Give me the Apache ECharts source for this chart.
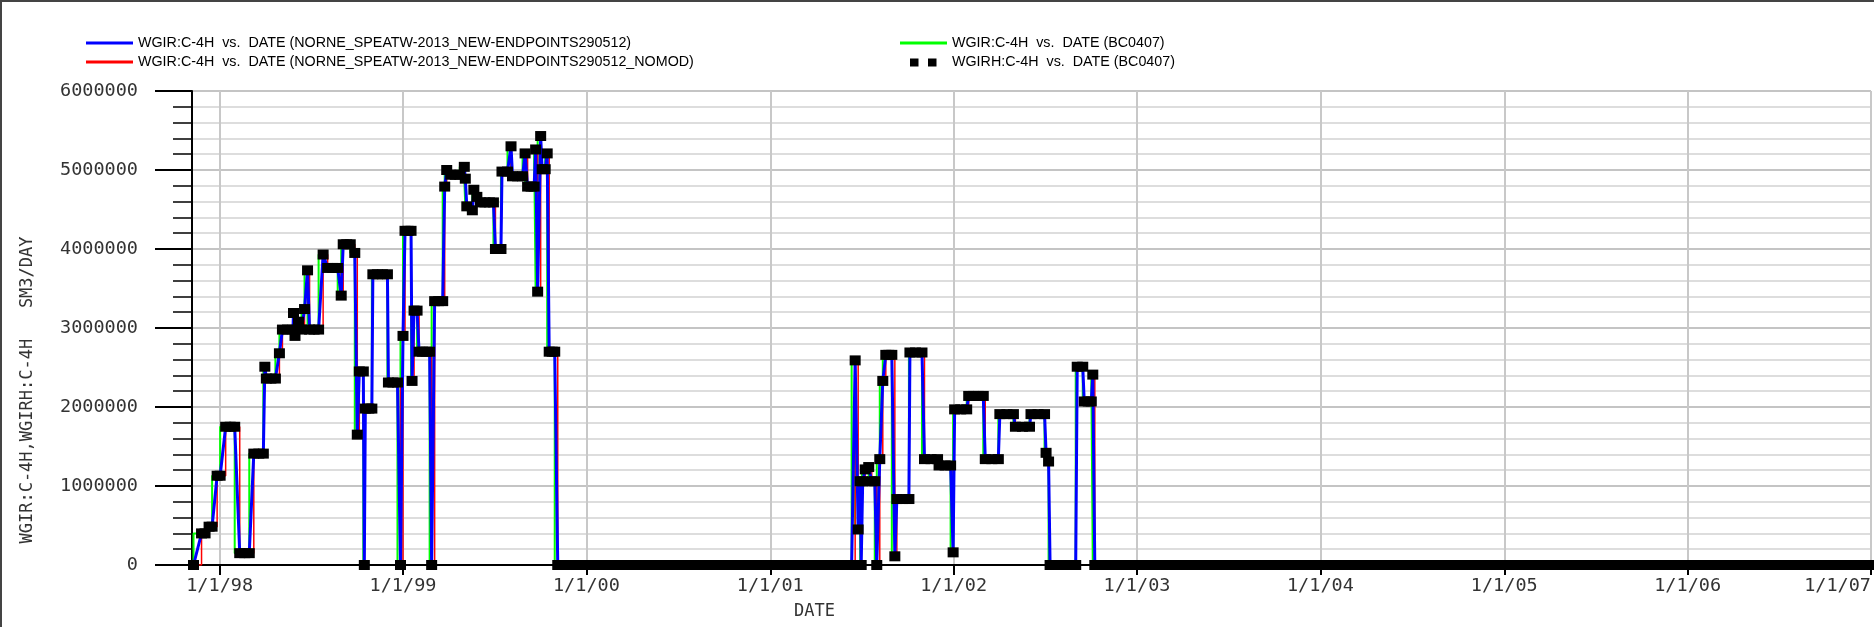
<!DOCTYPE html>
<html>
<head>
<meta charset="utf-8">
<script src="https://cdn.jsdelivr.net/npm/echarts@6/dist/echarts.min.js"></script>
<style>
html,body{margin:0;padding:0;background:#fff;}
#chart{width:1874px;height:627px;}
</style>
</head>
<body>
<div id="chart"></div>
<script>
// ---------- DATA ----------
const seriesNames = [
  'WGIR:C-4H  vs.  DATE (NORNE_SPEATW-2013_NEW-ENDPOINTS290512)',
  'WGIR:C-4H  vs.  DATE (NORNE_SPEATW-2013_NEW-ENDPOINTS290512_NOMOD)',
  'WGIR:C-4H  vs.  DATE (BC0407)',
  'WGIRH:C-4H  vs.  DATE (BC0407)'
];
const yAxisTitle = 'WGIR:C-4H,WGIRH:C-4H   SM3/DAY';
const xAxisTitle = 'DATE';
const yTickLabels = ['0','1000000','2000000','3000000','4000000','5000000','6000000'];

// injection period 1 (date, SM3/DAY)
const period1 = [
 ['1997-11-10',0],['1997-11-26',400000],['1997-12-03',400000],['1997-12-11',485000],['1997-12-17',485000],
 ['1997-12-27',1130000],['1998-01-02',1130000],['1998-01-13',1750000],['1998-01-22',1750000],['1998-01-31',1750000],
 ['1998-02-10',150000],['1998-02-20',150000],['1998-03-01',150000],['1998-03-10',1410000],['1998-03-20',1410000],
 ['1998-03-29',1410000],['1998-04-01',2510000],['1998-04-04',2360000],['1998-04-13',2360000],['1998-04-22',2360000],
 ['1998-04-30',2680000],['1998-05-06',2980000],['1998-05-16',2980000],['1998-05-27',2980000],['1998-05-28',3190000],
 ['1998-05-31',2900000],['1998-06-07',3080000],['1998-06-13',2980000],['1998-06-19',3240000],['1998-06-25',3730000],
 ['1998-06-29',2980000],['1998-07-08',2980000],['1998-07-17',2980000],['1998-07-26',3930000],['1998-08-04',3760000],
 ['1998-08-14',3760000],['1998-08-24',3760000],['1998-08-31',3410000],['1998-09-04',4060000],['1998-09-11',4060000],
 ['1998-09-18',4060000],['1998-09-27',3950000],['1998-10-02',1650000],['1998-10-06',2450000],['1998-10-14',2450000],
 ['1998-10-16',0],['1998-10-18',1980000],['1998-10-25',1980000],['1998-10-31',1980000],['1998-11-02',3680000],
 ['1998-11-11',3680000],['1998-11-21',3680000],['1998-12-01',3680000],['1998-12-03',2310000],['1998-12-12',2310000],
 ['1998-12-21',2310000],['1998-12-27',0],['1999-01-01',2900000],['1999-01-05',4230000],['1999-01-11',4230000],
 ['1999-01-17',4230000],['1999-01-19',2330000],['1999-01-23',3220000],['1999-01-29',3220000],['1999-02-02',2700000],
 ['1999-02-09',2700000],['1999-02-16',2700000],['1999-02-23',2700000],['1999-02-27',0],['1999-03-05',3340000],
 ['1999-03-13',3340000],['1999-03-21',3340000],['1999-03-25',4790000],['1999-03-29',5000000],['1999-04-06',4940000],
 ['1999-04-15',4940000],['1999-04-24',4940000],['1999-05-03',5040000],['1999-05-05',4890000],['1999-05-08',4540000],
 ['1999-05-19',4490000],['1999-05-22',4750000],['1999-05-28',4660000],['1999-06-04',4590000],['1999-06-13',4590000],
 ['1999-06-22',4590000],['1999-06-30',4590000],['1999-07-04',4000000],['1999-07-10',4000000],['1999-07-15',4000000],
 ['1999-07-17',4980000],['1999-07-28',4980000],['1999-08-04',5300000],['1999-08-07',4920000],['1999-08-17',4920000],
 ['1999-08-27',4920000],['1999-09-01',5210000],['1999-09-06',4790000],['1999-09-13',4790000],['1999-09-19',4790000],
 ['1999-09-22',5260000],['1999-09-26',3460000],['1999-10-02',5430000],['1999-10-05',5010000],['1999-10-11',5010000],
 ['1999-10-15',5210000],['1999-10-19',2700000],['1999-10-25',2700000],['1999-10-30',2700000]
];
// shut-in report dates (rate 0)
const shutIn1 = [
 '1999-11-05','1999-11-18','1999-12-01','1999-12-16',
 '2000-01-01','2000-01-16','2000-02-01','2000-02-16','2000-03-01','2000-03-16','2000-04-01','2000-04-16',
 '2000-05-01','2000-05-16','2000-06-01','2000-06-16','2000-07-01','2000-07-16','2000-08-01','2000-08-16',
 '2000-09-01','2000-09-16','2000-10-01','2000-10-16','2000-11-01','2000-11-16','2000-12-01','2000-12-16',
 '2001-01-01','2001-01-16','2001-02-01','2001-02-16','2001-03-01','2001-03-16','2001-04-01','2001-04-16',
 '2001-05-01','2001-05-16','2001-06-01','2001-06-12'
];
const period2 = [
 ['2001-06-19',2590000],['2001-06-25',450000],['2001-06-29',1060000],['2001-07-01',0],['2001-07-04',1060000],
 ['2001-07-09',1210000],['2001-07-16',1240000],['2001-07-22',1060000],['2001-07-28',1060000],['2001-08-01',0],
 ['2001-08-07',1340000],['2001-08-13',2330000],['2001-08-19',2660000],['2001-08-25',2660000],['2001-08-31',2660000],
 ['2001-09-06',110000],['2001-09-10',835000],['2001-09-22',835000],['2001-10-04',835000],['2001-10-06',2690000],
 ['2001-10-17',2690000],['2001-10-30',2690000],['2001-11-04',1340000],['2001-11-17',1340000],['2001-11-30',1340000],
 ['2001-12-03',1260000],['2001-12-15',1260000],['2001-12-26',1260000],['2001-12-31',160000],['2002-01-03',1970000],
 ['2002-01-15',1970000],['2002-01-27',1970000],['2002-01-31',2140000],['2002-02-09',2140000],['2002-02-19',2140000],
 ['2002-03-01',2140000],['2002-03-05',1340000],['2002-03-18',1340000],['2002-03-31',1340000],['2002-04-03',1910000],
 ['2002-04-17',1910000],['2002-04-30',1910000],['2002-05-04',1750000],['2002-05-18',1750000],['2002-06-01',1750000],
 ['2002-06-04',1910000],['2002-06-18',1910000],['2002-07-01',1910000],['2002-07-04',1420000],['2002-07-09',1310000]
];
const shutIn2 = ['2002-07-12','2002-07-24','2002-08-06','2002-08-19','2002-09-01'];
const period3 = [
 ['2002-09-04',2510000],['2002-09-15',2510000],['2002-09-18',2070000],['2002-09-26',2070000],['2002-10-02',2070000],
 ['2002-10-05',2410000]
];
const shutIn3 = [
 '2002-10-09','2002-10-20','2002-11-01','2002-11-16','2002-12-01','2002-12-16',
 '2003-01-01','2003-01-16','2003-02-01','2003-02-16','2003-03-01','2003-03-16','2003-04-01','2003-04-16',
 '2003-05-01','2003-05-16','2003-06-01','2003-06-16','2003-07-01','2003-07-16','2003-08-01','2003-08-16',
 '2003-09-01','2003-09-16','2003-10-01','2003-10-16','2003-11-01','2003-11-16','2003-12-01','2003-12-16',
 '2004-01-01','2004-01-16','2004-02-01','2004-02-16','2004-03-01','2004-03-16','2004-04-01','2004-04-16',
 '2004-05-01','2004-05-16','2004-06-01','2004-06-16','2004-07-01','2004-07-16','2004-08-01','2004-08-16',
 '2004-09-01','2004-09-16','2004-10-01','2004-10-16','2004-11-01','2004-11-16','2004-12-01','2004-12-16',
 '2005-01-01','2005-01-16','2005-02-01','2005-02-16','2005-03-01','2005-03-16','2005-04-01','2005-04-16',
 '2005-05-01','2005-05-16','2005-06-01','2005-06-16','2005-07-01','2005-07-16','2005-08-01','2005-08-16',
 '2005-09-01','2005-09-16','2005-10-01','2005-10-16','2005-11-01','2005-11-16','2005-12-01','2005-12-16',
 '2006-01-01','2006-01-16','2006-02-01','2006-02-16','2006-03-01','2006-03-16','2006-04-01','2006-04-16',
 '2006-05-01','2006-05-16','2006-06-01','2006-06-16','2006-07-01','2006-07-16','2006-08-01','2006-08-16',
 '2006-09-01','2006-09-16','2006-10-01','2006-10-16','2006-11-01','2006-11-16','2006-12-01','2006-12-16',
 '2007-01-01'
];

// ---------- build table ----------
const zeroRows = d => d.map(x => [x, 0]);
const historyPoints = [].concat(period1, zeroRows(shutIn1), period2, zeroRows(shutIn2), period3, zeroRows(shutIn3));

const colors = ['#0000ff', '#ff0000', '#00ff00', '#000000'];
const lineIcon = 'path://M0,0M47,9M0,3h47v3h-47z';
const squaresIcon = 'path://M0,0M47,9M10,1h8.5v8h-8.5zM28,1h8.5v8h-8.5z';
const monoFont = 'DejaVu Sans Mono';

function fmtDate(v) {
  const d = new Date(v);
  if (d.getMonth() !== 0 || d.getDate() !== 1) return '';
  return (d.getMonth() + 1) + '/' + d.getDate() + '/' + String(d.getFullYear()).slice(2);
}

const legendBase = {
  orient: 'vertical', itemWidth: 47, itemHeight: 9, itemGap: 5, padding: 0, selectedMode: false,
  textStyle: { fontFamily: 'Liberation Sans', fontSize: 14.3, color: '#000', lineHeight: 14 }
};

const chart = echarts.init(document.getElementById('chart'), null, { renderer: 'canvas' });
chart.setOption({
  animation: false,
  backgroundColor: '#fff',
  legend: [
    Object.assign({}, legendBase, { left: 86, top: 36, data: [
      { name: seriesNames[0], icon: lineIcon, itemStyle: { color: colors[0], borderWidth: 0 } },
      { name: seriesNames[1], icon: lineIcon, itemStyle: { color: colors[1], borderWidth: 0 } }
    ]}),
    Object.assign({}, legendBase, { left: 900, top: 36, data: [
      { name: seriesNames[2], icon: lineIcon, itemStyle: { color: colors[2], borderWidth: 0 } },
      { name: seriesNames[3], icon: squaresIcon, itemStyle: { color: colors[3], borderWidth: 0 } }
    ]})
  ],
  graphic: [
    { type: 'polyline', shape: { points: [[1, 627], [1, 1], [1874, 1]] }, style: { stroke: '#444', lineWidth: 2, fill: null }, silent: true }
  ],
  grid: { left: 192, top: 91, right: 0, bottom: 62, containLabel: false },
  xAxis: {
    type: 'time',
    min: '1997-11-07',
    max: '2007-01-01',
    splitNumber: 9,
    minInterval: 365 * 86400000,
    maxInterval: 366 * 86400000,
    name: xAxisTitle,
    nameLocation: 'middle',
    nameGap: 38,
    nameTextStyle: { fontFamily: monoFont, fontSize: 17, color: '#333', padding: [0, 434, 0, 0] },
    axisLine: { show: true, lineStyle: { color: '#000', width: 2 } },
    axisTick: { show: true, length: 10, lineStyle: { color: '#000', width: 2 } },
    axisLabel: { formatter: fmtDate, fontFamily: monoFont, fontSize: 18.5, color: '#333', margin: 12,
                 showMinLabel: false, showMaxLabel: true, alignMaxLabel: 'right', hideOverlap: false },
    splitLine: { show: true, lineStyle: { color: '#c8c8c8', width: 2 } },
    minorTick: { show: false },
    minorSplitLine: { show: false }
  },
  yAxis: {
    type: 'value',
    min: 0, max: 6000000, interval: 1000000,
    name: yAxisTitle,
    nameLocation: 'middle',
    nameGap: 156,
    nameTextStyle: { fontFamily: monoFont, fontSize: 17, color: '#333', padding: [0, 124, 0, 0] },
    axisLine: { show: true, lineStyle: { color: '#000', width: 2 } },
    axisTick: { show: true, length: 37, lineStyle: { color: '#000', width: 2 } },
    minorTick: { show: true, splitNumber: 5, length: 19, lineStyle: { color: '#000', width: 1.5 } },
    axisLabel: { formatter: v => yTickLabels[Math.round(v / 1000000)], fontFamily: monoFont, fontSize: 18.5, color: '#333', margin: 54 },
    splitLine: { show: true, lineStyle: { color: '#c4c4c4', width: 2 } },
    minorSplitLine: { show: true, lineStyle: { color: '#d2d2d2', width: 1.5 } }
  },
  series: [
    { name: seriesNames[0], type: 'line', data: historyPoints, showSymbol: false, symbol: 'none', z: 4,
      lineStyle: { color: colors[0], width: 3 }, itemStyle: { color: colors[0] } },
    { name: seriesNames[1], type: 'line', data: historyPoints, step: 'end', showSymbol: false, symbol: 'none', z: 3,
      lineStyle: { color: colors[1], width: 1.5 }, itemStyle: { color: colors[1] } },
    { name: seriesNames[2], type: 'line', data: historyPoints, step: 'start', showSymbol: false, symbol: 'none', z: 2,
      lineStyle: { color: colors[2], width: 2 }, itemStyle: { color: colors[2] } },
    { name: seriesNames[3], type: 'scatter', data: historyPoints, symbol: 'rect', symbolSize: [11, 10], z: 5,
      itemStyle: { color: colors[3], opacity: 1 } }
  ]
});
</script>
</body>
</html>
